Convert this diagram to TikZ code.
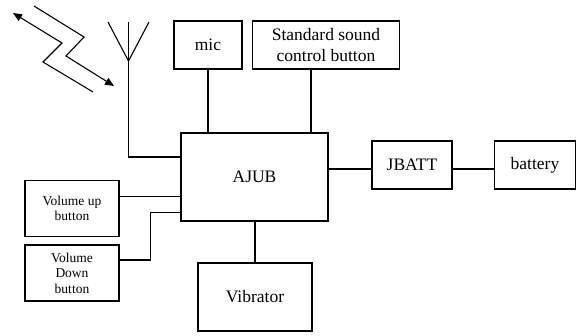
\documentclass[tikz,border=0pt]{standalone}
\usepackage{fontspec}
\setmainfont{Liberation Serif}
\usetikzlibrary{arrows.meta, positioning}

\begin{document}
\begin{tikzpicture}[
    x=1pt, y=-1pt,
    unit/.style={draw, line width=1.1pt, align=center, inner sep=1pt,
                 font=\fontsize{17.5}{21}\selectfont},
    small/.style={unit, font=\fontsize{13.5}{15.5}\selectfont,
                  minimum width=94pt, minimum height=56pt},
    wire/.style={line width=1.1pt},
    wave/.style={line width=1.1pt, -{Triangle[length=9pt,width=7.5pt]}},
]
\useasboundingbox (0,0) rectangle (578,335);
\node[unit, minimum width=68pt, minimum height=48pt] (mic) at (208,45) {mic};
\node[unit, minimum width=147pt, minimum height=48pt] (std) at (326,45)
    {Standard sound\\control button};
\node[unit, minimum width=147pt, minimum height=88pt] (ajub) at (254.5,177) {AJUB};
\node[unit, minimum width=80pt, minimum height=48pt] (jbatt) at (412,165) {JBATT};
\node[unit, minimum width=81pt, minimum height=48pt] (bat) at (535,165) {battery};
\node[unit, minimum width=114pt, minimum height=68pt] (vib) at (255,297) {Vibrator};
\node[small] (volup) at (72,208.5) {Volume up\\button};
\node[small] (voldn) at (72,273) {Volume\\Down\\button};

% antenna
\coordinate (ant) at (128.5,22);
\coordinate (antfork) at (128.5,61);
\coordinate (antl) at (108,22);
\coordinate (antr) at (149,22);
\draw[wire] (antl) -- (antfork) -- (antr);
\draw[wire] (ant) |- ([yshift=20pt]ajub.west);

% radio link
\draw[wave] (34,6) -- (84,37) -- (66,56) -- (114,86);
\draw[wave] (93,92) -- (43,62) -- (62,43) -- (13,13);

\draw[wire] (mic.south) -- (mic.south |- ajub.north);
\draw[wire] ([xshift=-15pt]std.south) -- ([xshift=-15pt]std.south |- ajub.north);
\draw[wire] ([yshift=-4pt]jbatt.west) -- ([yshift=-4pt]jbatt.west -| ajub.east);
\draw[wire] ([yshift=-4pt]jbatt.east) -- ([yshift=-4pt]bat.west);
\draw[wire] (ajub.south -| vib.north) -- (vib.north);
\draw[wire] ([yshift=12pt]volup.east) -- ([yshift=12pt]volup.east -| ajub.west);
\draw[wire] ([yshift=13pt]voldn.east) -- ++(31,0) |- ([yshift=-35.5pt]ajub.west);
\end{tikzpicture}
\end{document}
